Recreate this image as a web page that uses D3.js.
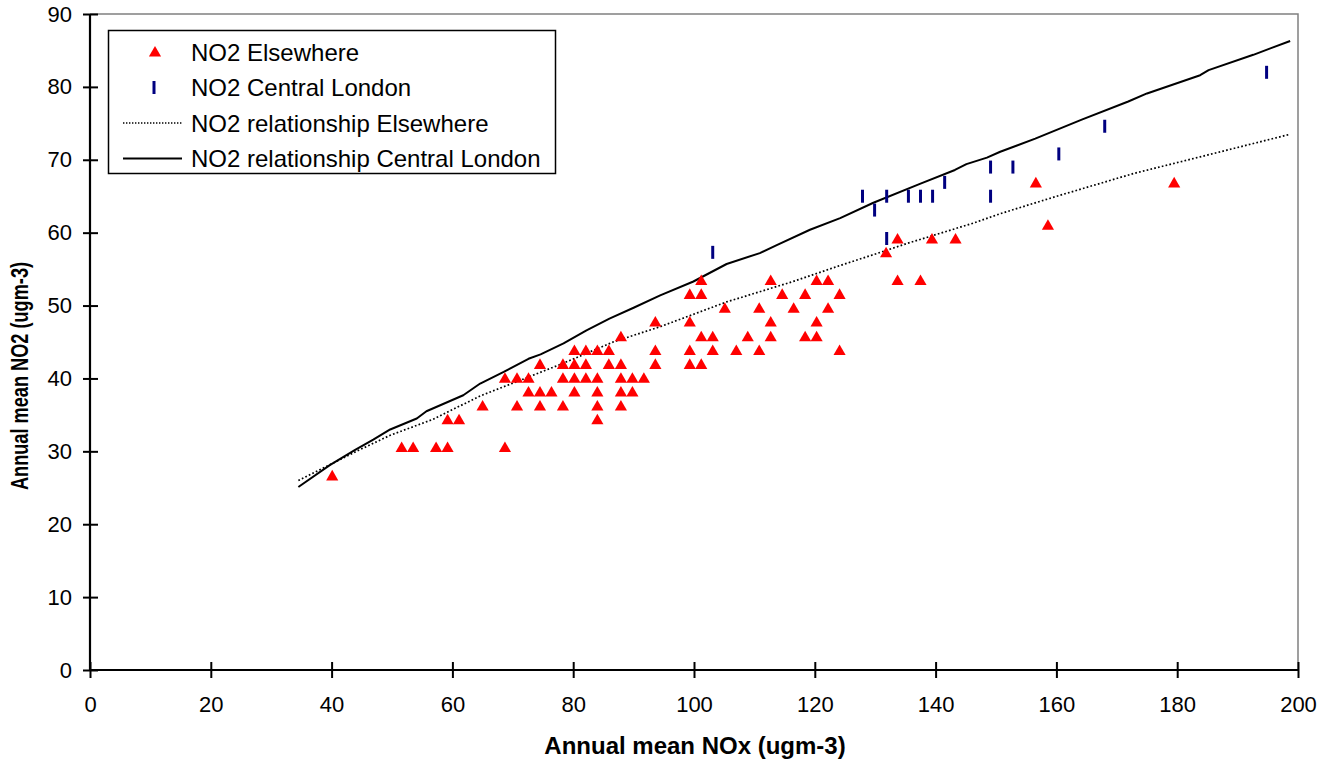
<!DOCTYPE html>
<html>
<head>
<meta charset="utf-8">
<script src="https://cdn.jsdelivr.net/npm/d3@7"></script>
<style>
  body { margin: 0; background: #fff; }
  svg text { font-family: Arial, "Liberation Sans", sans-serif; }
</style>
</head>
<body>
<div id="chart"></div>
<script>
const elsewhereNOx = [40.1, 51.6, 53.5, 57.3, 59.2, 68.7, 59.2, 61.1, 84.0,
  65.0, 70.7, 74.5, 78.3, 84.0, 87.9,
  72.6, 74.5, 76.4, 80.2, 84.0, 87.9, 89.8,
  68.7, 70.7, 72.6, 78.3, 80.2, 82.1, 84.0, 87.9, 89.8, 91.7,
  74.5, 78.3, 80.2, 82.1, 85.9, 87.9, 93.6, 99.3, 101.2,
  80.2, 82.1, 84.0, 85.9, 93.6, 99.3, 103.1, 107.0, 110.8, 124.1,
  87.9, 101.2, 103.1, 108.9, 112.7, 118.4, 120.3,
  93.6, 99.3, 112.7, 120.3,
  105.1, 110.8, 116.5, 122.2,
  99.3, 101.2, 114.6, 118.4, 124.1,
  101.2, 112.7, 120.3, 122.2, 133.7, 137.5,
  131.8, 133.7, 139.4, 143.3, 158.6, 156.6, 179.5];
const elsewhereNO2 = [26.7, 30.6, 30.6, 30.6, 30.6, 30.6, 34.4, 34.4, 34.4,
  36.3, 36.3, 36.3, 36.3, 36.3, 36.3,
  38.2, 38.2, 38.2, 38.2, 38.2, 38.2, 38.2,
  40.1, 40.1, 40.1, 40.1, 40.1, 40.1, 40.1, 40.1, 40.1, 40.1,
  42.0, 42.0, 42.0, 42.0, 42.0, 42.0, 42.0, 42.0, 42.0,
  43.9, 43.9, 43.9, 43.9, 43.9, 43.9, 43.9, 43.9, 43.9, 43.9,
  45.8, 45.8, 45.8, 45.8, 45.8, 45.8, 45.8,
  47.8, 47.8, 47.8, 47.8,
  49.7, 49.7, 49.7, 49.7,
  51.6, 51.6, 51.6, 51.6, 51.6,
  53.5, 53.5, 53.5, 53.5, 53.5, 53.5,
  57.3, 59.2, 59.2, 59.2, 61.1, 66.9, 66.9];

const londonNOx = [103.1, 127.9, 129.9, 131.9, 131.9, 135.5, 137.5, 139.5, 141.5,
  149.1, 149.1, 152.8, 160.4, 168.0, 194.8];
const londonNO2 = [57.3, 65.0, 63.1, 65.0, 59.2, 65.0, 65.0, 65.0, 66.9,
  69.0, 65.0, 69.0, 70.8, 74.6, 82.0];

// modelled relationship curves
const relElsewhereNOx = [34.5, 44.1, 49.7, 56.8, 64.6, 71.7, 78.4, 86.6, 94.4, 105.4, 116.4, 120.3,
  124.2, 130.5, 135.2, 146.2, 150.7, 157.3, 161.7, 172.7, 183.8, 198.7];
const relElsewhereNO2 = [26.0, 30.0, 32.2, 34.4, 37.6, 39.9, 42.1, 45.0, 47.1, 50.5, 53.3, 54.4,
  55.5, 57.2, 58.5, 61.3, 62.6, 64.3, 65.4, 68.1, 70.4, 73.5];

const relLondonNOx = [34.5, 39.7, 43.9, 46.9, 49.7, 54.1, 55.7, 61.8, 64.6, 68.5, 72.6, 74.6, 78.4,
  82.2, 86.0, 90.0, 94.4, 99.9, 105.4, 110.9, 113.7, 119.2, 124.2, 129.7, 137.4, 143.2,
  145.1, 148.5, 150.7, 156.5, 164.2, 171.9, 175.0, 183.8, 185.2, 192.6, 198.7];
const relLondonNO2 = [25.1, 28.1, 30.2, 31.6, 33.0, 34.5, 35.5, 37.7, 39.3, 40.9, 42.7, 43.3, 44.8,
  46.6, 48.2, 49.7, 51.4, 53.3, 55.7, 57.2, 58.3, 60.4, 62.0, 64.1, 66.7, 68.6,
  69.4, 70.3, 71.1, 72.9, 75.5, 78.0, 79.1, 81.6, 82.3, 84.4, 86.3];

const xTicks = d3.range(0, 201, 20);
const yTicks = d3.range(0, 91, 10);
const legendItems = ["NO2 Elsewhere", "NO2 Central London", "NO2 relationship Elsewhere", "NO2 relationship Central London"];

const width = 1326, height = 765;
const fontSize = "22px";

var svg = d3.select("#chart")
  .append("svg")
  .attr("width", width)
  .attr("height", height);

var x = d3.scaleLinear().domain([0, 200]).range([90, 1298]);
var y = d3.scaleLinear().domain([0, 90]).range([670, 14]);

// grey plot-area border on top and right
svg.append("path")
  .attr("d", `M${x(0)},${y(90)}H${x(200)}V${y(0)}`)
  .attr("fill", "none")
  .attr("stroke", "#808080")
  .attr("stroke-width", 1.5);

// relationship lines
var line = d3.line()
  .x(d => x(d[0]))
  .y(d => y(d[1]));

svg.append("path")
  .attr("d", line(d3.zip(relElsewhereNOx, relElsewhereNO2)))
  .attr("fill", "none")
  .attr("stroke", "#000")
  .attr("stroke-width", 1.7)
  .attr("stroke-dasharray", "1.7,2.2");

svg.append("path")
  .attr("d", line(d3.zip(relLondonNOx, relLondonNO2)))
  .attr("fill", "none")
  .attr("stroke", "#000")
  .attr("stroke-width", 2)
  .attr("stroke-linejoin", "round");

// measured points
var tri = d3.symbol(d3.symbolTriangle, 64);

svg.append("g")
  .selectAll("path")
  .data(d3.zip(elsewhereNOx, elsewhereNO2))
  .enter()
  .append("path")
  .attr("d", tri)
  .attr("transform", d => `translate(${x(d[0])},${y(d[1]) + 1.5})`)
  .attr("fill", "#ff0000");

svg.append("g")
  .selectAll("line")
  .data(d3.zip(londonNOx, londonNO2))
  .enter()
  .append("line")
  .attr("x1", d => x(d[0]))
  .attr("x2", d => x(d[0]))
  .attr("y1", d => y(d[1]) - 6.5)
  .attr("y2", d => y(d[1]) + 6.5)
  .attr("stroke", "#000080")
  .attr("stroke-width", 3);

// axes (Excel-style cross ticks)
var xAxis = d3.axisBottom(x).tickValues(xTicks).tickSize(8).tickPadding(18);
var gx = svg.append("g")
  .attr("transform", `translate(0,${y(0)})`)
  .call(xAxis);
gx.selectAll(".tick line").attr("y1", -8).attr("stroke-width", 2);
gx.select(".domain").attr("stroke-width", 2.2).attr("d", `M${x(0)},0H${x(200)}`);

var yAxis = d3.axisLeft(y).tickValues(yTicks).tickSize(7).tickPadding(11);
var gy = svg.append("g")
  .attr("transform", `translate(${x(0)},0)`)
  .call(yAxis);
gy.selectAll(".tick line").attr("x1", 8).attr("stroke-width", 2);
gy.select(".domain").attr("stroke-width", 2.2).attr("d", `M0,${y(0)}V${y(90)}`);

svg.selectAll(".tick text")
  .style("font-size", fontSize)
  .style("font-family", "Arial, 'Liberation Sans', sans-serif")
  .attr("fill", "#000");

// axis titles
svg.append("text")
  .attr("x", 695)
  .attr("y", 754)
  .attr("text-anchor", "middle")
  .style("font-size", "24px")
  .style("font-weight", "bold")
  .text("Annual mean NOx (ugm-3)");

// the original picture is stretched sideways, so the vertical title is squeezed along its length
svg.append("text")
  .attr("transform", "translate(28,376) rotate(-90) scale(0.79,1)")
  .attr("text-anchor", "middle")
  .style("font-size", "23px")
  .style("font-weight", "bold")
  .text("Annual mean NO2 (ugm-3)");

// legend
var legend = svg.append("g");
legend.append("rect")
  .attr("x", 108.5)
  .attr("y", 30.5)
  .attr("width", 447)
  .attr("height", 143)
  .attr("fill", "#fff")
  .attr("stroke", "#000")
  .attr("stroke-width", 1.5);

var rows = legend.selectAll("g.row")
  .data(legendItems)
  .enter()
  .append("g")
  .attr("class", "row")
  .attr("transform", (d, i) => `translate(0,${52 + i * 35.5})`);

rows.append("text")
  .attr("x", 191)
  .attr("y", 8.5)
  .style("font-size", "24px")
  .text(d => d);

rows.filter((d, i) => i == 0).append("path")
  .attr("d", tri)
  .attr("transform", "translate(155,1)")
  .attr("fill", "#ff0000");

rows.filter((d, i) => i == 1).append("line")
  .attr("x1", 154).attr("x2", 154)
  .attr("y1", -6.5).attr("y2", 6.5)
  .attr("stroke", "#000080")
  .attr("stroke-width", 3);

rows.filter((d, i) => i == 2).append("line")
  .attr("x1", 123).attr("x2", 182)
  .attr("stroke", "#000")
  .attr("stroke-width", 1.4)
  .attr("stroke-dasharray", "1.4,1.6");

rows.filter((d, i) => i == 3).append("line")
  .attr("x1", 123).attr("x2", 182)
  .attr("stroke", "#000")
  .attr("stroke-width", 2);
</script>
</body>
</html>
